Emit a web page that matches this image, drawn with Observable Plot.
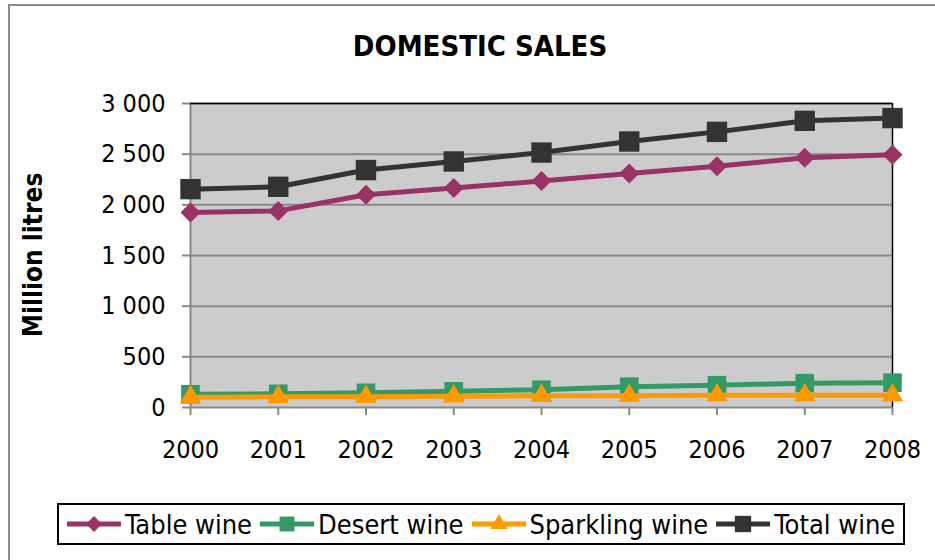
<!DOCTYPE html>
<html>
<head>
<meta charset="utf-8">
<script src="https://cdn.jsdelivr.net/npm/d3@7"></script>
<script src="https://cdn.jsdelivr.net/npm/@observablehq/plot@0.6"></script>
<style>
  html, body { margin: 0; padding: 0; background: #fff; }
  #wrap { position: relative; width: 935px; height: 560px; overflow: hidden; font-family: "Liberation Sans Narrow", "DejaVu Sans Condensed", sans-serif; }
  #border { position: absolute; left: 8px; top: 4px; width: 940px; height: 600px; border: 2px solid #8c8c8c; box-sizing: border-box; }
  #title { position: absolute; left: 0; width: 960px; top: 28px; text-align: center; font-weight: bold; font-size: 29px; line-height: 36px; color: #000; }
  #ylabel { position: absolute; left: 33px; top: 255px; transform: translate(-50%, -50%) rotate(-90deg); font-weight: bold; font-size: 26px; white-space: nowrap; color: #000; }
  #chart { position: absolute; left: 0; top: 80px; }
  #legend { position: absolute; left: 57px; top: 503px; width: 848px; height: 42px; border: 2px solid #000; box-sizing: border-box; display: flex; align-items: center; padding-left: 6px; font-size: 27px; color: #000; white-space: nowrap; overflow: hidden; }
  .item { display: flex; align-items: center; margin-right: 6px; flex-shrink: 0; white-space: nowrap; }
  .item svg { display: block; margin-right: 2px; flex-shrink: 0; }
</style>
</head>
<body>
<div id="wrap">
  <div id="border"></div>
  <div id="title">DOMESTIC SALES</div>
  <div id="ylabel">Million litres</div>
  <div id="chart"></div>
  <div id="legend"></div>
</div>
<script>
const years = [2000, 2001, 2002, 2003, 2004, 2005, 2006, 2007, 2008];
const tableWine = [1925, 1940, 2100, 2165, 2235, 2310, 2380, 2465, 2495];
const desertWine = [130, 135, 145, 160, 175, 205, 220, 240, 245];
const sparklingWine = [100, 105, 105, 110, 115, 115, 120, 120, 120];
const totalWine = [2155, 2178, 2343, 2428, 2516, 2625, 2720, 2829, 2856];
const seriesNames = ["Table wine", "Desert wine", "Sparkling wine", "Total wine"];
const seriesColors = ["#993366", "#339966", "#ff9900", "#333333"];
const seriesSymbols = ["diamond2", "square", "triangle", "square"];
const yTicks = [0, 500, 1000, 1500, 2000, 2500, 3000];

const allValues = [tableWine, desertWine, sparklingWine, totalWine];
const data = [];
allValues.forEach((vals, i) => {
  vals.forEach((v, j) => data.push({series: seriesNames[i], year: years[j], value: v}));
});

const fmt = d => d3.format(",")(d).replace(/,/g, " ");
const font = '"Liberation Sans Narrow", "DejaVu Sans Condensed", sans-serif';
const dotR = {"Table wine": 9, "Desert wine": 10.5, "Sparkling wine": 8, "Total wine": 11.5};

const marks = [
  Plot.frame({fill: "#cccccc", stroke: null}),
  Plot.ruleY(yTicks, {stroke: "#888888", strokeWidth: 2}),
  Plot.ruleX([years[0]], {stroke: "#888888", strokeWidth: 2}),
  Plot.ruleX([years[years.length - 1]], {stroke: "#000", strokeWidth: 1.5}),
  Plot.ruleY([yTicks[yTicks.length - 1]], {stroke: "#000", strokeWidth: 1.5}),
  Plot.axisY({ticks: yTicks, tickFormat: fmt, tickSize: 8, tickPadding: 17, stroke: "#888", strokeWidth: 2, fontSize: 25}),
  Plot.axisX({ticks: years, tickFormat: d => String(d), tickSize: 8, tickPadding: 25, stroke: "#888", strokeWidth: 2, fontSize: 25})
];
seriesNames.forEach((name, i) => {
  const d = data.filter(r => r.series === name);
  marks.push(Plot.line(d, {x: "year", y: "value", stroke: seriesColors[i], strokeWidth: 5}));
  marks.push(Plot.dot(d, {x: "year", y: "value", fill: seriesColors[i], stroke: null, symbol: () => seriesSymbols[i], r: dotR[name]}));
});

const chart = Plot.plot({
  width: 935,
  height: 400,
  marginTop: 23,
  marginBottom: 73,
  marginLeft: 190,
  marginRight: 43,
  style: {fontFamily: font, fontSize: "25px", color: "#000", background: "transparent", overflow: "visible"},
  x: {domain: [years[0], years[years.length - 1]], label: null},
  y: {domain: [0, 3000], label: null},
  marks
});
document.getElementById("chart").appendChild(chart);

// legend
const legend = document.getElementById("legend");
const symMap = {diamond2: d3.symbolDiamond2, square: d3.symbolSquare, triangle: d3.symbolTriangle};
seriesNames.forEach((name, i) => {
  const item = document.createElement("div");
  item.className = "item";
  const svg = d3.create("svg").attr("width", 58).attr("height", 24);
  svg.append("line").attr("x1", 2).attr("x2", 56).attr("y1", 12).attr("y2", 12)
    .attr("stroke", seriesColors[i]).attr("stroke-width", 5);
  const sz = Math.PI * Math.pow(dotR[name] * 0.8, 2);
  svg.append("path").attr("transform", "translate(29,12)")
    .attr("d", d3.symbol(symMap[seriesSymbols[i]], sz)()).attr("fill", seriesColors[i]);
  item.appendChild(svg.node());
  const t = document.createElement("span");
  t.textContent = name;
  item.appendChild(t);
  legend.appendChild(item);
});
</script>
</body>
</html>
